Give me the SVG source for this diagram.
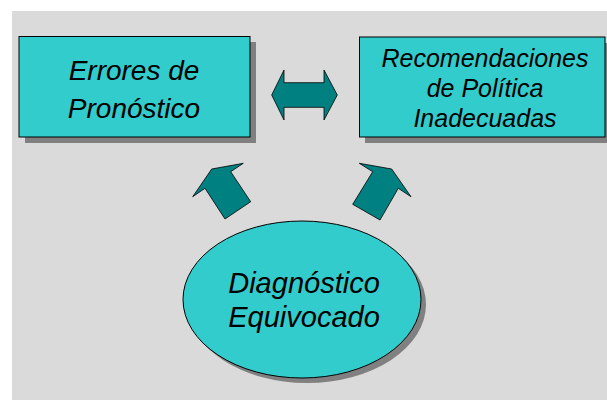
<svg xmlns="http://www.w3.org/2000/svg" width="607" height="401" viewBox="0 0 607 401">
<style>
.bg{fill:#DADADA}
.shadow{fill:#808080}
.box{fill:#33CCCC;stroke:#000;stroke-width:1}
.arrow{fill:#008080;stroke:#000;stroke-width:0.8;stroke-linejoin:miter}
.t{font-family:"Liberation Sans",Arial,sans-serif;font-style:italic;fill:#000;text-anchor:middle}
</style>
<rect x="0" y="0" width="607" height="401" fill="#FFFFFF"/>
<rect class="bg" x="12" y="11" width="595" height="389"/>
<g id="node-errores">
<rect class="shadow" x="25" y="42" width="231" height="101"/>
<rect class="box" x="19" y="36.5" width="231" height="100.5"/>
<text class="t" font-size="28" x="134" y="80">Errores de</text>
<text class="t" font-size="28" x="134" y="117.5">Pronóstico</text>
</g>
<g id="node-recomendaciones">
<rect class="shadow" x="365" y="43" width="246" height="100"/>
<rect class="box" x="359.5" y="37" width="245.5" height="100"/>
<text class="t" font-size="25" x="485" y="66.5">Recomendaciones</text>
<text class="t" font-size="25" x="485" y="96.5">de Política</text>
<text class="t" font-size="25" x="485" y="127">Inadecuadas</text>
</g>
<g id="node-diagnostico">
<ellipse class="shadow" cx="307" cy="304.5" rx="119" ry="78.5"/>
<ellipse class="box" cx="302" cy="299.5" rx="119" ry="78.5"/>
<text class="t" font-size="29" x="304" y="293">Diagnóstico</text>
<text class="t" font-size="29" x="304" y="326.5">Equivocado</text>
</g>
<g id="connectors">
<polygon class="arrow" points="271.7,95 284,70 284,82.7 324,82.7 324,70 337.3,95 324,120 324,107.3 284,107.3 284,120"/>
<polygon class="arrow" points="192.7,196.7 211.7,169 243.3,163.3 230.7,171.7 250.7,201.7 225,219 205,188.3"/>
<polygon class="arrow" points="411,196.7 391.7,169 359.3,163.3 372.7,171.7 352.7,204.3 380,220 398.3,188.3"/>
</g>
</svg>
